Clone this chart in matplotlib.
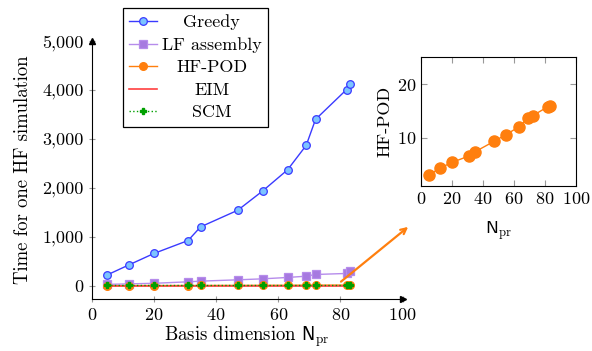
import matplotlib

matplotlib.use("Agg")
import matplotlib.pyplot as plt
from matplotlib.ticker import FixedLocator, FuncFormatter

plt.rcParams["font.family"] = ["cmr10", "DejaVu Serif"]
plt.rcParams["mathtext.fontset"] = "cm"
plt.rcParams["axes.formatter.use_mathtext"] = True

# basis dimension N_pr
n_pr = [5, 12, 20, 31, 35, 47, 55, 63, 69, 72, 82, 83]
# time for one HF simulation, per method
greedy = [224, 429, 661, 926, 1204, 1545, 1939, 2370, 2870, 3400, 4010, 4120]
lf_assembly = [30, 40, 52, 82, 96, 123, 143, 171, 197, 232, 253, 300]
hf_pod = [3.0, 4.3, 5.4, 6.6, 7.4, 9.3, 10.6, 12.0, 13.6, 14.1, 15.8, 16.0]
eim = [1, 1, 1, 1, 1, 1, 1, 1, 1, 1, 1, 1]
scm = [18, 18, 18, 18, 18, 18, 18, 18, 18, 18, 18, 18]

y_ticks = [0, 1000, 2000, 3000, 4000, 5000]
x_ticks = [0, 20, 40, 60, 80, 100]
inset_y_ticks = [10, 20]

BLUE = "#3a3aff"
BLUE_FILL = "#7cc4ff"
PURPLE = "#b68ceb"
PURPLE_FILL = "#a679e0"
ORANGE = "#ff7f0e"
RED = "#ff4040"
GREEN = "#00a000"
TICK = "#999999"
FS = 13

fig = plt.figure(figsize=(5.92, 3.51), dpi=100)
ax = fig.add_axes([0.155, 0.148, 0.525, 0.735])

ax.plot(n_pr, greedy, color=BLUE, lw=1.0, marker="o", ms=5.5,
        mfc=BLUE_FILL, mec=BLUE, mew=0.9, label="Greedy", zorder=3)
ax.plot(n_pr, lf_assembly, color=PURPLE, lw=1.0, marker="s", ms=5.5,
        mfc=PURPLE_FILL, mec=PURPLE, mew=0.9, label="LF assembly", zorder=3)
ax.plot(n_pr, hf_pod, color=ORANGE, lw=1.0, marker="o", ms=5.5,
        mfc=ORANGE, mec=ORANGE, label="HF-POD", zorder=3)
ax.plot(n_pr, eim, color=RED, lw=1.2, label="EIM", zorder=4)
ax.plot(n_pr, scm, color=GREEN, lw=1.0, ls=":", marker="P", ms=4.5,
        mfc=GREEN, mec=GREEN, label="SCM", zorder=5)

ax.set_xlim(0, 100)
ax.set_ylim(-270, 5000)
for s in ("top", "right"):
    ax.spines[s].set_visible(False)
# axis arrows
ax.plot(1, 0, marker=">", ms=4, color="black", transform=ax.transAxes, clip_on=False)
ax.plot(0, 1, marker="^", ms=4, color="black", transform=ax.transAxes, clip_on=False)

ax.yaxis.set_major_locator(FixedLocator(y_ticks))
ax.yaxis.set_major_formatter(FuncFormatter(lambda v, p: f"{int(v):,}"))
ax.xaxis.set_major_locator(FixedLocator(x_ticks))
ax.tick_params(direction="inout", length=5, color=TICK, labelsize=FS, width=0.8)
ax.set_ylabel("Time for one HF simulation", fontsize=13.5, labelpad=7)
ax.set_xlabel(r"Basis dimension $\mathsf{N}_{\mathrm{pr}}$", fontsize=13.5, labelpad=1)

leg = fig.legend(loc="upper left", bbox_to_anchor=(0.208, 0.977), fontsize=FS,
                 frameon=True, fancybox=False, edgecolor="black", framealpha=1,
                 borderaxespad=0, handlelength=1.5, labelspacing=0.38,
                 borderpad=0.35, handletextpad=0.3)
leg.get_frame().set_linewidth(0.9)

# zoom arrow towards the inset
ax.annotate("", xy=(102.5, 1240), xytext=(79.5, 50),
            arrowprops=dict(arrowstyle="->", color=ORANGE, lw=1.6),
            annotation_clip=False)

# inset: HF-POD alone
axi = fig.add_axes([0.711, 0.470, 0.262, 0.367])
axi.plot(n_pr, hf_pod, color=ORANGE, lw=1.0, marker="o", ms=8,
         mfc=ORANGE, mec=ORANGE)
axi.set_xlim(0, 100)
axi.set_ylim(1, 25)
axi.xaxis.set_major_locator(FixedLocator(x_ticks))
axi.yaxis.set_major_locator(FixedLocator(inset_y_ticks))
axi.tick_params(direction="in", length=4, color=TICK, labelsize=FS,
                top=True, right=True, width=0.8)
axi.set_ylabel("HF-POD", fontsize=FS, fontweight="bold", labelpad=3)
axi.set_xlabel(r"$\mathsf{N}_{\mathrm{pr}}$", fontsize=FS, labelpad=9)

# centre legend labels within their column, like pgfplots does
fig.canvas.draw()
r = fig.canvas.get_renderer()
texts = leg.get_texts()
widths = [t.get_window_extent(r).width for t in texts]
wmax = max(widths)
for t, w in zip(texts, widths):
    t.set_x((wmax - w) / 2)

fig.savefig("out.png", dpi=100)
